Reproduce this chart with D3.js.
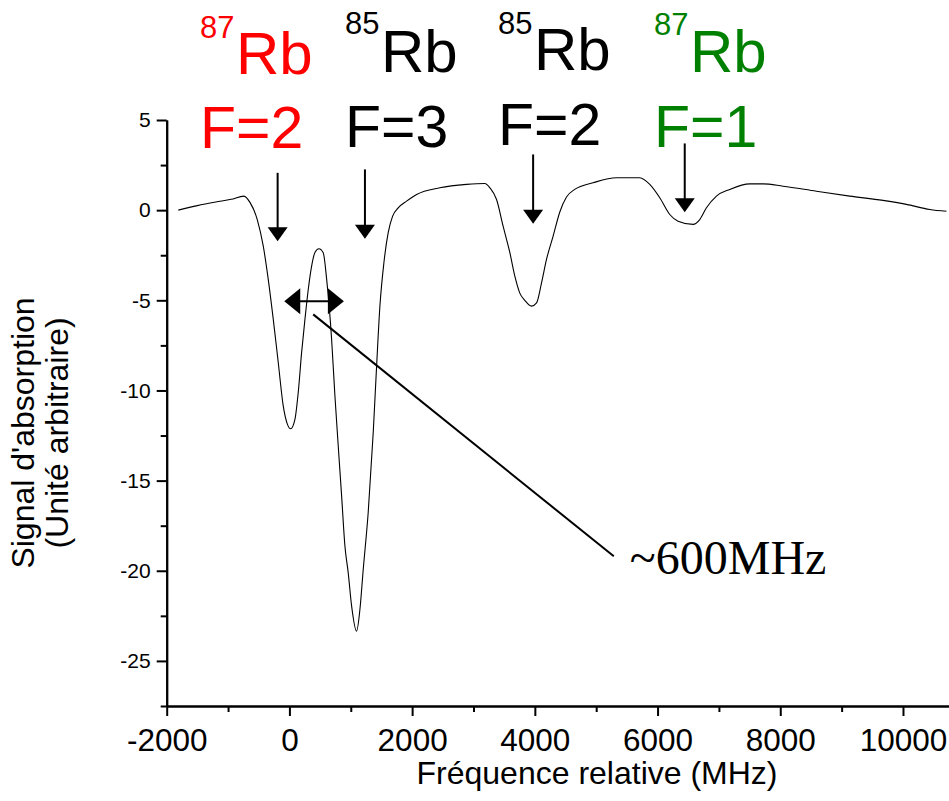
<!DOCTYPE html>
<html>
<head>
<meta charset="utf-8">
<script src="https://cdn.jsdelivr.net/npm/d3@7"></script>
<style>
  body { margin: 0; background: #fff; }
  svg { display: block; }
  .axis path, .axis line { stroke: #000; stroke-width: 2; }
  .axis text { font-family: "Liberation Sans", Arial, sans-serif; fill: #000; }
</style>
</head>
<body>
<svg id="chart" width="949" height="801"></svg>
<script>
(function() {

  // absorption spectrum: frequency (MHz), signal (a.u.)
  let freq = [-1811, -1500, -1200, -950, -740, -643, -524, -426, -345, -263, -182, -100, -35, 20,
              90, 144, 199, 253, 307, 362, 416, 481, 551, 607, 688, 742, 796, 851, 905, 958,
              1014, 1095, 1149, 1203, 1284, 1366, 1421, 1475, 1540, 1610, 1682, 1773, 1910, 2073,
              2452, 2887, 3185, 3267, 3376, 3483, 3593, 3674, 3755, 3837, 3946, 4028, 4109, 4190,
              4298, 4407, 4516, 4651, 4950, 5331, 5710, 5873, 6036, 6199, 6334, 6579, 6688, 6797,
              6960, 7177, 7503, 7720, 8045, 8589, 9132, 9674, 10056, 10436, 10708];
  let signal = [0.0, 0.25, 0.45, 0.6, 0.78, 0.43, -0.52, -2.0, -3.84, -6.06, -8.45, -10.87, -11.85, -12.12,
                -11.6, -10.1, -7.89, -6.06, -4.4, -3.1, -2.35, -2.14, -2.36, -3.84, -7.17, -10.32, -13.09, -15.86, -18.64, -20.1,
                -21.96, -23.35, -22.15, -19.93, -16.77, -12.33, -8.65, -5.32, -2.92, -1.25, -0.33, 0.13, 0.5, 0.87,
                1.24, 1.43, 1.48, 1.24, 0.59, -0.89, -2.36, -3.66, -4.6, -5.0, -5.32, -5.14, -4.03, -2.73,
                -1.44, -0.1, 0.73, 1.15, 1.52, 1.8, 1.8, 1.43, 0.69, -0.24, -0.61, -0.79, -0.52, 0.13,
                0.78, 1.15, 1.46, 1.46, 1.33, 1.05, 0.78, 0.54, 0.32, 0.04, -0.06];

  let xTicks = [-2000, 0, 2000, 4000, 6000, 8000, 10000];
  let xMinor = [-1000, 1000, 3000, 5000, 7000, 9000];
  let yTicks = [-25, -20, -15, -10, -5, 0, 5];
  let yMinor = [-27.5, -22.5, -17.5, -12.5, -7.5, -2.5, 2.5];

  // line labels
  let isotopes = ["87", "85", "85", "87"];
  let levels = ["F=2", "F=3", "F=2", "F=1"];
  let colors = ["#ff0000", "#000000", "#000000", "#008000"];

  // arrows pointing at the lines: frequency, top and tip (signal units)
  let arrowFreq = [-192, 1231, 3972, 6443];
  let arrowTop = [2.07, 2.26, 3.09, 3.7];
  let arrowTip = [-1.72, -1.59, -0.75, -0.11];

  // spacing annotation
  let spanFreq = [-84, 888];
  let spanLevel = -5.05;
  let leaderFreq = [388, 5287];
  let leaderLevel = [-5.78, -19.2];
  let spanText = "~600MHz";
  let spanTextAt = [5547, -20.2];

  let svg = d3.select("#chart");

  let xScale = d3.scaleLinear()
                 .domain([-2000, 10750])
                 .range([166.7, 949]);
  let yScale = d3.scaleLinear()
                 .domain([-27.5, 5])
                 .range([706, 120]);

  // axes
  let xAxis = d3.axisBottom(xScale)
                .tickValues(xTicks)
                .tickSize(10)
                .tickSizeOuter(0)
                .tickPadding(13)
                .tickFormat(d => d < 0 ? "-" + Math.abs(d) : d);
  let xAxisMinor = d3.axisBottom(xScale)
                     .tickValues(xMinor)
                     .tickSize(6)
                     .tickSizeOuter(0)
                     .tickFormat("");
  let yAxis = d3.axisLeft(yScale)
                .tickValues(yTicks)
                .tickSize(10)
                .tickSizeOuter(0)
                .tickPadding(6)
                .tickFormat(d => d < 0 ? "-" + Math.abs(d) : d);
  let yAxisMinor = d3.axisLeft(yScale)
                     .tickValues(yMinor)
                     .tickSize(6)
                     .tickSizeOuter(0)
                     .tickFormat("");

  svg.append("g")
     .attr("class", "axis")
     .attr("transform", "translate(0,706)")
     .call(xAxisMinor);
  let gx = svg.append("g")
     .attr("class", "axis")
     .attr("transform", "translate(0,706)")
     .call(xAxis);
  gx.selectAll("text").attr("font-size", "31.5px");

  svg.append("g")
     .attr("class", "axis")
     .attr("transform", "translate(166.7,0)")
     .call(yAxisMinor);
  let gy = svg.append("g")
     .attr("class", "axis")
     .attr("transform", "translate(166.7,0)")
     .call(yAxis);
  gy.selectAll("text").attr("font-size", "21px");

  // axis titles
  svg.append("text")
     .attr("x", 597)
     .attr("y", 784)
     .attr("text-anchor", "middle")
     .attr("font-family", "Liberation Sans, Arial, sans-serif")
     .attr("font-size", "32px")
     .text("Fréquence relative (MHz)");
  let yt = svg.append("text")
     .attr("transform", "translate(34,433) rotate(-90)")
     .attr("text-anchor", "middle")
     .attr("font-family", "Liberation Sans, Arial, sans-serif")
     .attr("font-size", "32px");
  yt.append("tspan").attr("x", 0).attr("y", 0).text("Signal d'absorption");
  yt.append("tspan").attr("x", 0).attr("y", 34).text("(Unité arbitraire)");

  // spectrum
  let line = d3.line()
               .x((d, i) => xScale(freq[i]))
               .y((d, i) => yScale(signal[i]))
               .curve(d3.curveMonotoneX);
  svg.append("path")
     .datum(signal)
     .attr("fill", "none")
     .attr("stroke", "#000")
     .attr("stroke-width", 1.1)
     .attr("d", line);

  // arrows
  arrowFreq.forEach(function(f, i) {
    let ax = xScale(f);
    let tip = yScale(arrowTip[i]);
    svg.append("line")
       .attr("x1", ax).attr("x2", ax)
       .attr("y1", yScale(arrowTop[i])).attr("y2", tip - 10)
       .attr("stroke", "#000")
       .attr("stroke-width", 2);
    svg.append("path")
       .attr("d", "M" + (ax - 10) + "," + (tip - 14) + "L" + (ax + 10) + "," + (tip - 14) + "L" + ax + "," + tip + "Z")
       .attr("fill", "#000");
  });

  // double arrow and leader line
  let sx0 = xScale(spanFreq[0]), sx1 = xScale(spanFreq[1]), sy = yScale(spanLevel);
  svg.append("line")
     .attr("x1", sx0 + 10).attr("x2", sx1 - 10)
     .attr("y1", sy).attr("y2", sy)
     .attr("stroke", "#000").attr("stroke-width", 2);
  svg.append("path")
     .attr("d", "M" + sx0 + "," + sy + "L" + (sx0 + 16) + "," + (sy - 13) + "L" + (sx0 + 16) + "," + (sy + 13) + "Z")
     .attr("fill", "#000");
  svg.append("path")
     .attr("d", "M" + sx1 + "," + sy + "L" + (sx1 - 16) + "," + (sy - 13) + "L" + (sx1 - 16) + "," + (sy + 13) + "Z")
     .attr("fill", "#000");
  svg.append("line")
     .attr("x1", xScale(leaderFreq[0])).attr("y1", yScale(leaderLevel[0]))
     .attr("x2", xScale(leaderFreq[1])).attr("y2", yScale(leaderLevel[1]))
     .attr("stroke", "#000").attr("stroke-width", 2);
  svg.append("text")
     .attr("x", xScale(spanTextAt[0]))
     .attr("y", yScale(spanTextAt[1]))
     .attr("font-family", "Liberation Serif, Times New Roman, serif")
     .attr("font-size", "48px")
     .text(spanText);

  // line labels at the top
  let labelX = [200, 345, 498, 654];
  let isoBase = [38, 34, 33.5, 35];
  let rbBase = [74, 71.5, 70, 71.5];
  let fBase = [148.3, 146.7, 145, 146.7];
  isotopes.forEach(function(iso, i) {
    let g = svg.append("g")
               .attr("transform", "translate(" + labelX[i] + ",0)")
               .attr("font-family", "Liberation Sans, Arial, sans-serif")
               .attr("fill", colors[i]);
    g.append("text")
     .attr("x", 0).attr("y", isoBase[i])
     .attr("font-size", "31px")
     .text(iso);
    g.append("text")
     .attr("x", 36).attr("y", rbBase[i])
     .attr("font-size", "60px")
     .text("Rb");
    g.append("text")
     .attr("x", 0).attr("y", fBase[i])
     .attr("font-size", "59px")
     .text(levels[i]);
  });

})();
</script>
</body>
</html>
